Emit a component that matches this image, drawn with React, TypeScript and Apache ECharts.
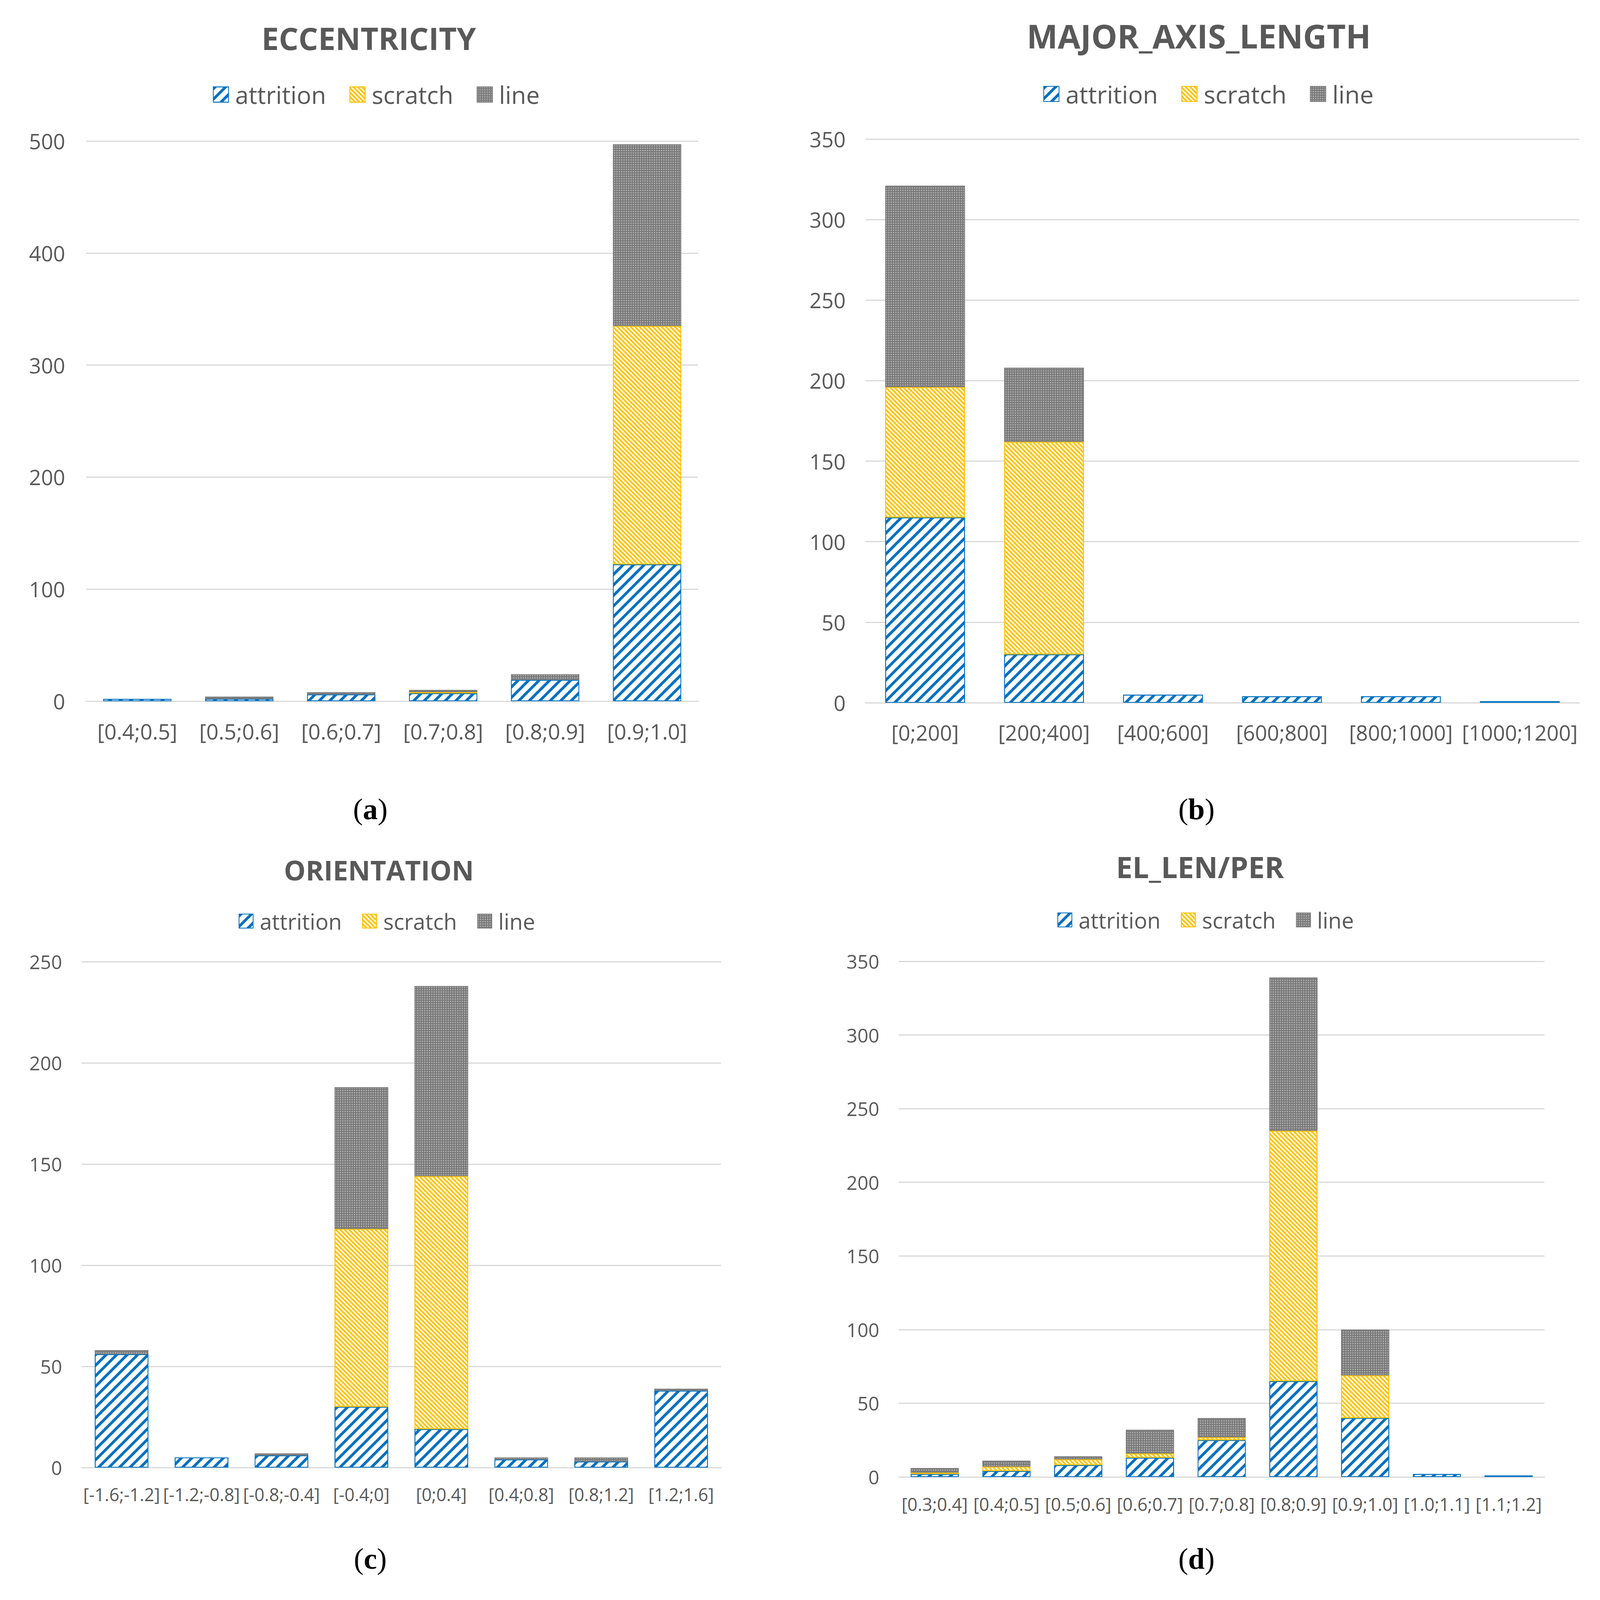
import React, { useEffect, useRef } from "react";
import * as echarts from "echarts";

// ---- data ----
const eccCategories = ["[0.4;0.5]", "[0.5;0.6]", "[0.6;0.7]", "[0.7;0.8]", "[0.8;0.9]", "[0.9;1.0]"];
const eccAttrition = [2, 2, 6, 7, 19, 122];
const eccScratch = [0, 0, 0, 1, 0, 213];
const eccLine = [0, 2, 2, 2, 5, 162];

const majCategories = ["[0;200]", "[200;400]", "[400;600]", "[600;800]", "[800;1000]", "[1000;1200]"];
const majAttrition = [115, 30, 5, 4, 4, 1];
const majScratch = [81, 132, 0, 0, 0, 0];
const majLine = [125, 46, 0, 0, 0, 0];

const oriCategories = ["[-1.6;-1.2]", "[-1.2;-0.8]", "[-0.8;-0.4]", "[-0.4;0]", "[0;0.4]", "[0.4;0.8]", "[0.8;1.2]", "[1.2;1.6]"];
const oriAttrition = [56, 5, 6, 30, 19, 4, 3, 38];
const oriScratch = [0, 0, 0, 88, 125, 0, 0, 0];
const oriLine = [2, 0, 1, 70, 94, 1, 2, 1];

const elCategories = ["[0.3;0.4]", "[0.4;0.5]", "[0.5;0.6]", "[0.6;0.7]", "[0.7;0.8]", "[0.8;0.9]", "[0.9;1.0]", "[1.0;1.1]", "[1.1;1.2]"];
const elAttrition = [2, 4, 8, 13, 25, 65, 40, 2, 1];
const elScratch = [1, 3, 4, 3, 2, 170, 29, 0, 0];
const elLine = [3, 4, 2, 16, 13, 104, 31, 0, 0];

const seriesNames = ["attrition", "scratch", "line"];
const chartTitles = ["ECCENTRICITY", "MAJOR_AXIS_LENGTH", "ORIENTATION", "EL_LEN/PER"];
const captionLetters = ["a", "b", "c", "d"];
const yMax = [500, 350, 250, 350];
const yInterval = [100, 50, 50, 50];

const FONT = "'Open Sans', 'Noto Sans', sans-serif";
const TXT = "#595959";

const styles = [
  {
    color: "#ffffff",
    borderColor: "#0070C0",
    borderWidth: 2,
    decal: { symbol: "rect", color: "#0070C0", dashArrayX: [1, 0], dashArrayY: [7, 11.5], rotation: -Math.PI / 4 },
  },
  {
    color: "#FFF8E0",
    borderColor: "#FFC000",
    borderWidth: 2,
    decal: { symbol: "rect", color: "#FFC000", dashArrayX: [1, 0], dashArrayY: [4, 3.5], rotation: Math.PI / 4 },
  },
  {
    color: "#7a7a7a",
    borderColor: "#7f7f7f",
    borderWidth: 2,
    decal: { symbol: "rect", color: "#b5b5b5", dashArrayX: [3, 3], dashArrayY: [3, 3], rotation: 0 },
  },
];

const panels = [
  { cats: eccCategories, vals: [eccAttrition, eccScratch, eccLine] },
  { cats: majCategories, vals: [majAttrition, majScratch, majLine] },
  { cats: oriCategories, vals: [oriAttrition, oriScratch, oriLine] },
  { cats: elCategories, vals: [elAttrition, elScratch, elLine] },
];

// layout (pixels)
const grids = [
  { left: 221, top: 361, width: 1566, height: 1434 },
  { left: 2216, top: 356, width: 1827, height: 1443 },
  { left: 209, top: 2462, width: 1637, height: 1295 },
  { left: 2301, top: 2461, width: 1653, height: 1320 },
];
const titlePos = [
  { x: 944, y: 97, size: 79 },
  { x: 3069, y: 91, size: 84 },
  { x: 970, y: 2227, size: 70 },
  { x: 3072, y: 2219, size: 75 },
];
const legendPos = [
  { left: 540, top: 206, font: 62, icon: 39, gap: 60 },
  { left: 2666, top: 204, font: 63, icon: 39, gap: 60 },
  { left: 606, top: 2325, font: 56, icon: 36, gap: 52 },
  { left: 2702, top: 2322, font: 56, icon: 36, gap: 52 },
];
const yLabelFont = [54, 54, 49, 49];
const xLabelFont = [55, 54, 45, 45.5];
const xLabelMargin = [49, 49, 46, 46];
const yLabelMargin = [54, 51, 50, 50];
const captionPos = [
  { x: 948, y: 2071 },
  { x: 3063, y: 2071 },
  { x: 948, y: 3990 },
  { x: 3063, y: 3990 },
];

function buildOption() {
  const series: any[] = [];
  panels.forEach((p, gi) => {
    p.vals.forEach((arr, si) => {
      series.push({
        type: "bar",
        name: seriesNames[si],
        xAxisIndex: gi,
        yAxisIndex: gi,
        stack: "s" + gi,
        barWidth: "67%",
        itemStyle: styles[si],
        emphasis: { disabled: true },
        data: arr.map((v) => (v === 0 ? "-" : v)),
      });
    });
  });

  const graphic: any[] = [];
  titlePos.forEach((t, i) => {
    graphic.push({
      type: "text",
      x: t.x,
      y: t.y,
      style: {
        text: chartTitles[i],
        font: `bold ${t.size}px ${FONT}`,
        fill: TXT,
        align: "center",
        verticalAlign: "middle",
        textAlign: "center",
        textVerticalAlign: "middle",
      },
    });
  });
  captionPos.forEach((c, i) => {
    graphic.push({
      type: "text",
      x: c.x,
      y: c.y,
      style: {
        text: `{p|(}{b|${captionLetters[i]}}{p|)}`,
        align: "center",
        verticalAlign: "middle",
        textAlign: "center",
        textVerticalAlign: "middle",
        rich: {
          p: { fontFamily: "'Liberation Serif', serif", fontSize: 76, fill: "#000", color: "#000" },
          b: { fontFamily: "'Liberation Serif', serif", fontSize: 76, fontWeight: "bold", fill: "#000", color: "#000" },
        },
      },
    });
  });

  return {
    animation: false,
    backgroundColor: "#ffffff",
    textStyle: { fontFamily: FONT },
    grid: grids.map((g) => ({ ...g, containLabel: false })),
    legend: legendPos.map((l) => ({
      left: l.left,
      top: l.top,
      orient: "horizontal",
      icon: "rect",
      itemWidth: l.icon,
      itemHeight: l.icon,
      itemGap: l.gap,
      selectedMode: false,
      data: seriesNames,
      textStyle: { fontFamily: FONT, fontSize: l.font, color: TXT, padding: [0, 0, 0, 12] },
    })),
    xAxis: panels.map((p, i) => ({
      type: "category",
      gridIndex: i,
      data: p.cats,
      axisLine: { show: true, lineStyle: { color: "#d9d9d9", width: 3 } },
      axisTick: { show: false },
      axisLabel: { interval: 0, fontFamily: FONT, fontSize: xLabelFont[i], color: TXT, margin: xLabelMargin[i] },
      splitLine: { show: false },
    })),
    yAxis: panels.map((p, i) => ({
      type: "value",
      gridIndex: i,
      min: 0,
      max: yMax[i],
      interval: yInterval[i],
      axisLine: { show: false },
      axisTick: { show: false },
      axisLabel: { fontFamily: FONT, fontSize: yLabelFont[i], color: TXT, margin: yLabelMargin[i] },
      splitLine: { show: true, lineStyle: { color: "#d9d9d9", width: 3 } },
    })),
    series,
    graphic,
  };
}

export default function App() {
  const ref = useRef<HTMLDivElement>(null);
  useEffect(() => {
    if (!ref.current) return;
    const chart = echarts.init(ref.current, undefined, { renderer: "svg" });
    chart.setOption(buildOption() as any);
    return () => chart.dispose();
  }, []);
  return (
    <div
      ref={ref}
      style={{ position: "absolute", left: 0, top: 0, width: 4175, height: 4153, background: "#fff" }}
    />
  );
}
